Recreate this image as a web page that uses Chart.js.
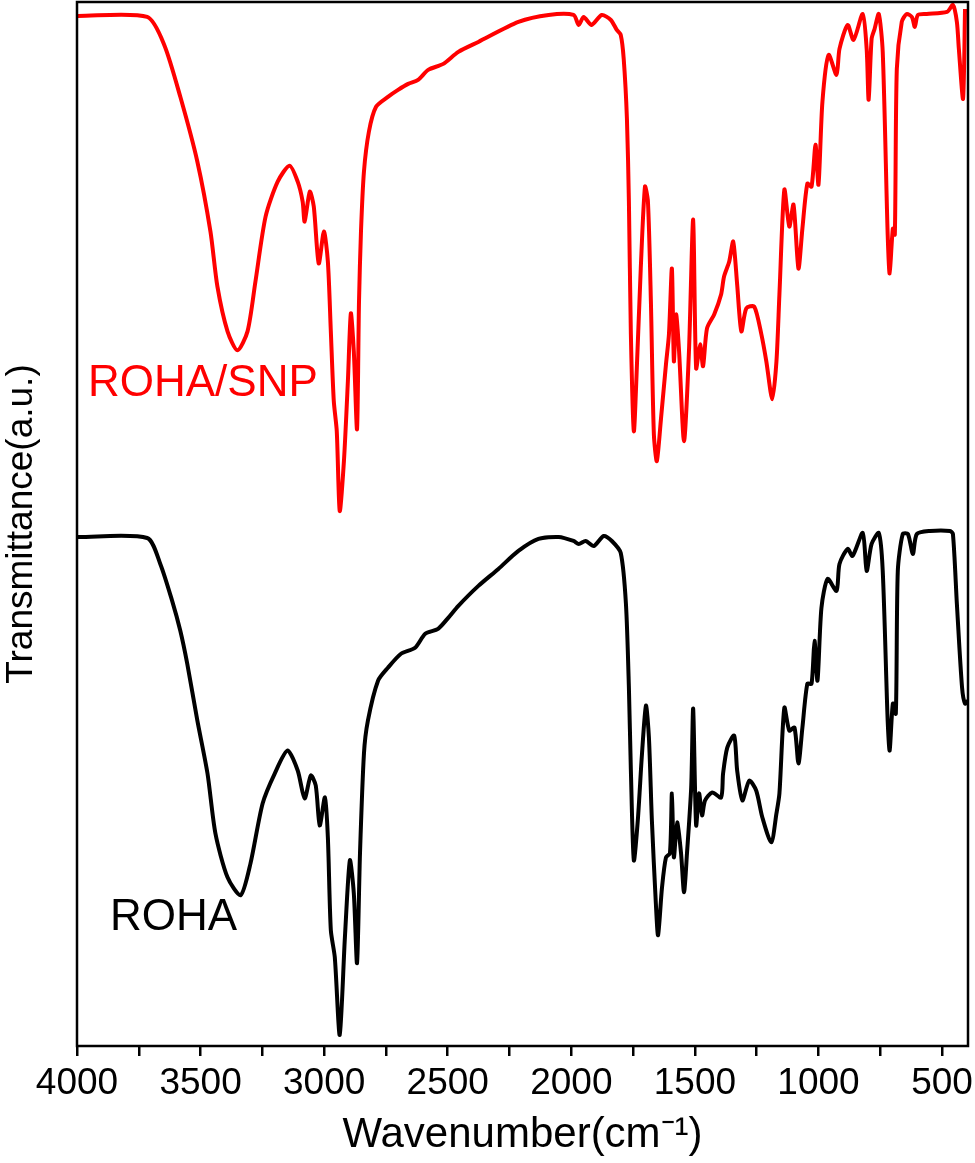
<!DOCTYPE html>
<html><head><meta charset="utf-8">
<script src="https://cdn.jsdelivr.net/npm/chart.js@4.4.0/dist/chart.umd.min.js"></script>
<style>html,body{margin:0;padding:0;background:#fff}</style>
</head><body>
<canvas id="c" width="975" height="1163"></canvas>
<script>
const snpWn = [4000,3716,3647,3582,3513,3460,3432,3391,3351,3310,3278,3237,3188,3140,3107,3087,3079,3058,3042,3022,3001,2985,2973,2961,2949,2937,2920,2904,2892,2880,2867,2859,2851,2839,2819,2790,2742,2701,2660,2620,2579,2518,2457,2376,2214,2092,1991,1970,1950,1918,1877,1840,1816,1800,1788,1775,1767,1759,1747,1735,1719,1702,1690,1678,1666,1654,1637,1617,1605,1593,1585,1576,1564,1544,1524,1507,1495,1479,1467,1451,1422,1394,1382,1361,1345,1329,1312,1292,1260,1231,1211,1187,1170,1158,1138,1118,1101,1081,1065,1045,1028,1012,1000,984,959,927,915,882,858,821,805,797,785,773,756,740,720,712,699,691,683,663,643,622,610,598,562,480,456,440,432,415,407];
const snpT = [103.2,103.1,100.3,95.1,88.6,81.6,76.1,71.6,69.7,71.6,76.6,83.1,86.6,88.2,86.6,84.6,82.6,85.6,84.1,78.4,81.6,78.6,71.6,64.6,61.6,53.6,58.6,66.6,73.4,69.6,61.8,74.6,81.6,87.6,91.6,94.1,95.1,95.8,96.4,96.8,97.8,98.4,99.6,100.6,102.6,103.3,103.3,102.3,103.1,102.3,103.3,102.8,101.8,101.3,98.9,92.9,84.6,71.3,61.6,67.9,77.9,86.1,84.6,74.6,61.3,58.6,62.9,68.3,71.3,77.9,68.6,73.3,69.6,60.6,69.6,82.8,67.9,70.3,68.1,71.9,73.3,75.3,77.1,78.6,80.6,76.3,71.6,73.9,74.1,71.3,68.6,64.8,68.6,75.3,85.8,82.1,84.3,77.9,81.9,86.4,86.1,90.3,86.3,94.6,99.3,97.3,99.9,102.3,100.8,103.4,99.9,94.8,100.9,101.9,103.4,99.6,81.3,77.4,81.9,81.3,97.9,102.6,103.4,103.1,102.1,103.3,103.4,103.6,104.3,102.6,99.9,94.9,103.9];
const rohaWn = [4000,3716,3663,3615,3582,3554,3513,3472,3440,3391,3338,3298,3249,3200,3148,3107,3079,3054,3034,3018,2997,2985,2973,2957,2937,2916,2896,2880,2867,2855,2839,2823,2782,2742,2689,2632,2591,2539,2498,2457,2376,2295,2214,2133,2051,1991,1970,1942,1909,1869,1836,1800,1779,1767,1759,1747,1731,1714,1698,1686,1674,1658,1649,1633,1617,1601,1593,1585,1572,1556,1544,1532,1515,1507,1495,1483,1471,1459,1430,1394,1386,1369,1341,1329,1308,1280,1252,1227,1191,1170,1158,1138,1118,1097,1081,1065,1045,1028,1016,1004,988,963,927,915,882,862,821,805,785,756,740,720,712,699,687,679,659,638,618,602,549,468,456,440,419,407,395];
const rohaT = [51.0,50.9,48.3,44.6,41.6,38.3,32.6,27.3,21.3,16.9,15.1,18.3,24.3,27.3,29.6,27.6,24.8,27.1,26.1,22.1,24.9,20.9,11.6,8.9,1.1,10.9,18.6,15.3,8.3,19.3,29.3,32.6,36.6,37.9,39.3,39.9,41.3,41.8,42.9,44.1,46.1,47.8,49.6,50.8,51.0,50.6,50.3,50.6,50.1,51.1,50.6,49.4,44.3,35.9,27.6,18.6,22.6,29.3,34.1,30.9,22.6,14.3,11.1,15.9,18.9,19.3,25.3,18.9,22.4,19.3,15.4,19.3,25.9,33.8,22.1,25.3,23.1,24.6,25.4,24.9,27.3,29.9,31.1,27.6,24.6,26.6,25.6,22.9,20.4,23.3,25.3,33.9,31.6,31.9,28.3,31.9,36.3,36.3,40.6,36.6,43.9,46.8,45.6,48.3,49.8,49.1,51.4,47.6,50.3,51.4,47.6,32.6,29.6,34.3,33.3,47.6,51.3,51.3,49.3,51.3,51.6,51.6,51.3,44.3,35.9,34.3,34.6];
const xTicks = [4000,3750,3500,3250,3000,2750,2500,2250,2000,1750,1500,1250,1000,750,500];
const seriesNames = ['ROHA/SNP','ROHA'];

const toPts = (w,t)=>w.map((v,i)=>({x:v,y:t[i]}));
const labelPlugin = {
  id:'extras',
  afterDraw(ch){
    const {ctx, chartArea:a} = ch;
    ctx.save();
    ctx.strokeStyle='#000'; ctx.lineWidth=2.5;
    ctx.strokeRect(a.left,a.top,a.right-a.left,a.bottom-a.top);
    ctx.font='44px "Liberation Sans", Arial, sans-serif';
    ctx.textBaseline='middle';
    ctx.fillStyle='#ff0000'; ctx.fillText(seriesNames[0], 88, 384);
    ctx.fillStyle='#000'; ctx.fillText(seriesNames[1], 110, 918);
    ctx.restore();
  }
};
new Chart(document.getElementById('c'),{
  type:'line',
  data:{datasets:[
    {data:toPts(snpWn,snpT),borderColor:'#ff0000',borderWidth:4,pointRadius:0,tension:0.25},
    {data:toPts(rohaWn,rohaT),borderColor:'#000',borderWidth:4,pointRadius:0,tension:0.25}
  ]},
  options:{
    responsive:false,animation:false,devicePixelRatio:1,
    layout:{padding:{top:2,right:7,left:0,bottom:0}},
    plugins:{legend:{display:false},tooltip:{enabled:false}},
    scales:{
      x:{type:'linear',reverse:true,min:395,max:4000,
        afterBuildTicks:s=>{s.ticks=xTicks.map(v=>({value:v}));},
        afterFit:s=>{s.height=117; s.paddingRight=0;},
        border:{display:false},
        grid:{drawOnChartArea:false,drawTicks:true,tickLength:10,color:'#000',lineWidth:2.5},
        ticks:{autoSkip:false,maxRotation:0,color:'#000',padding:6,font:{family:'"Liberation Sans", Arial',size:37},
          callback:v=>v%500===0?String(v):''},
        title:{display:true,text:'Wavenumber(cm⁻¹)',color:'#000',font:{family:'"Liberation Sans", Arial',size:42},padding:{top:0,bottom:2}}
      },
      y:{min:0,max:104.6,
        afterFit:s=>{s.width=77;},
        border:{display:false},grid:{display:false},ticks:{display:false},
        title:{display:true,text:'Transmittance(a.u.)',color:'#000',font:{family:'"Liberation Sans", Arial',size:37},padding:{top:0,bottom:0}}
      }
    }
  },
  plugins:[labelPlugin]
});
</script>
</body></html>
